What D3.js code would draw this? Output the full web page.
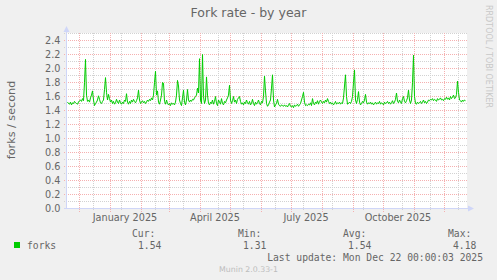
<!DOCTYPE html>
<html><head><meta charset="utf-8">
<script src="https://cdnjs.cloudflare.com/ajax/libs/d3/7.8.5/d3.min.js"></script>
<style>html,body{margin:0;padding:0;background:#f0f0f0;}svg{display:block;}</style>
</head><body>
<script>
// ---- data ----
const title = "Fork rate - by year";
const yLabel = "forks / second";
const seriesName = "forks";
const seriesStart = "2024-11-19"; // first daily sample
const domainStart = "2024-11-19";
const domainEnd = "2025-12-24";
const yTicks = [0.0,0.2,0.4,0.6,0.8,1.0,1.2,1.4,1.6,1.8,2.0,2.2,2.4];
const yMinorTicks = [0.1,0.3,0.5,0.7,0.9,1.1,1.3,1.5,1.7,1.9,2.1,2.3,2.5];
const monthLabels = [["2025-01-16","January 2025"],["2025-04-16","April 2025"],["2025-07-16","July 2025"],["2025-10-16","October 2025"]];
const majorGridDates = ["2024-12-01","2025-01-01","2025-02-01","2025-03-01","2025-04-01","2025-05-01","2025-06-01","2025-07-01","2025-08-01","2025-09-01","2025-10-01","2025-11-01","2025-12-01"];
const minorGridDates = ["2024-12-15","2025-01-12","2025-02-15","2025-03-15","2025-04-19","2025-05-14","2025-06-15","2025-07-13","2025-08-11","2025-09-11","2025-10-20","2025-11-17","2025-12-15"];
const forks = [
1.52,1.50,1.49,1.52,1.48,1.51,1.50,1.53,1.51,1.50,1.49,1.52,1.54,1.55,1.53,1.57,1.54,1.80,2.13,1.62,
1.53,1.55,1.52,1.58,1.62,1.68,1.55,1.47,1.50,1.52,1.55,1.61,1.56,1.51,1.50,1.53,1.55,1.70,1.87,1.66,
1.55,1.63,1.57,1.52,1.55,1.50,1.53,1.49,1.51,1.56,1.52,1.50,1.55,1.51,1.49,1.52,1.50,1.55,1.53,1.64,
1.52,1.49,1.53,1.50,1.55,1.52,1.56,1.53,1.51,1.54,1.58,1.69,1.55,1.50,1.52,1.54,1.51,1.53,1.50,1.52,
1.55,1.53,1.56,1.54,1.58,1.55,1.62,1.80,1.96,1.62,1.68,1.52,1.49,1.55,1.62,1.80,1.79,1.53,1.49,1.55,
1.50,1.48,1.50,1.47,1.51,1.49,1.50,1.48,1.52,1.62,1.83,1.75,1.55,1.50,1.47,1.58,1.69,1.52,1.48,1.55,
1.70,1.55,1.52,1.55,1.53,1.56,1.55,1.58,1.60,1.62,1.72,1.65,2.14,1.55,1.50,2.20,1.60,1.50,1.55,1.88,
1.62,1.50,1.48,1.52,1.50,1.55,1.49,1.53,1.60,1.50,1.47,1.55,1.52,1.49,1.57,1.50,1.48,1.53,1.51,1.55,
1.58,1.62,1.76,1.55,1.50,1.54,1.60,1.52,1.55,1.50,1.56,1.58,1.60,1.53,1.49,1.51,1.48,1.52,1.50,1.55,
1.51,1.49,1.53,1.48,1.50,1.56,1.50,1.47,1.52,1.49,1.51,1.55,1.50,1.48,1.53,1.51,1.60,1.89,1.68,1.50,
1.46,1.48,1.52,1.55,1.72,1.91,1.55,1.45,1.48,1.50,1.56,1.49,1.47,1.46,1.48,1.47,1.46,1.48,1.46,1.47,
1.45,1.48,1.50,1.46,1.45,1.47,1.44,1.48,1.46,1.47,1.49,1.46,1.48,1.50,1.55,1.60,1.66,1.52,1.47,1.48,
1.47,1.49,1.48,1.51,1.47,1.57,1.50,1.48,1.52,1.50,1.54,1.49,1.53,1.55,1.52,1.50,1.53,1.51,1.55,1.52,
1.57,1.53,1.50,1.52,1.49,1.51,1.48,1.50,1.53,1.49,1.51,1.50,1.52,1.49,1.51,1.50,1.58,1.75,1.91,1.60,
1.49,1.50,1.52,1.50,1.53,1.60,1.80,1.98,1.55,1.50,1.56,1.67,1.52,1.48,1.50,1.53,1.51,1.55,1.63,1.52,
1.49,1.51,1.50,1.52,1.49,1.51,1.48,1.50,1.52,1.49,1.51,1.50,1.53,1.49,1.51,1.50,1.48,1.52,1.50,1.51,
1.53,1.50,1.52,1.49,1.51,1.54,1.50,1.52,1.56,1.65,1.53,1.51,1.55,1.52,1.50,1.57,1.60,1.53,1.51,1.54,
1.58,1.69,1.55,1.50,1.55,1.80,2.19,1.60,1.50,1.49,1.52,1.50,1.51,1.53,1.50,1.52,1.55,1.51,1.53,1.50,
1.52,1.55,1.54,1.56,1.55,1.57,1.54,1.56,1.55,1.53,1.57,1.55,1.56,1.58,1.55,1.56,1.54,1.57,1.56,1.59,
1.56,1.58,1.55,1.60,1.57,1.59,1.62,1.57,1.58,1.63,1.82,1.66,1.55,1.54,1.52,1.55,1.53,1.55,1.54
];
const legendHeads = ["Cur:","Min:","Avg:","Max:"];
const legendValues = ["1.54","1.31","1.54","4.18"];
const lastUpdate = "Last update: Mon Dec 22 00:00:03 2025";
const footer = "Munin 2.0.33-1";
const watermark = "RRDTOOL / TOBI OETIKER";

// ---- drawing ----
function draw() {
const W = 497, H = 280;
const pLeft = 67, pRight = 467, pTop = 33.5, pBottom = 208.5;
const parse = d3.utcParse("%Y-%m-%d");
const svg = d3.select("body").append("svg").attr("width", W).attr("height", H);
svg.append("rect").attr("width", W).attr("height", H).attr("fill", "#f0f0f0");
svg.append("rect").attr("x", pLeft).attr("y", 33).attr("width", pRight - pLeft).attr("height", 175.5).attr("fill", "#ffffff");

const x = d3.scaleUtc().domain([parse(domainStart), parse(domainEnd)]).range([pLeft, pRight]);
const y = d3.scaleLinear().domain([0, 2.5]).range([pBottom, pTop]);
const px = v => Math.round(v) + 0.5;

const fontSans = "DejaVu Sans";
const fontMono = "DejaVu Sans Mono";
const textCol = "#666666";
const minorCol = "#d2d2d2";
const majorCol = "#f5b0b0";

// minor horizontal grid
svg.append("g").selectAll("line").data(yMinorTicks).join("line")
  .attr("x1", pLeft - 3).attr("x2", pRight)
  .attr("y1", d => px(y(d) - 0.5)).attr("y2", d => px(y(d) - 0.5))
  .attr("stroke", minorCol).attr("stroke-dasharray", "1,1").attr("shape-rendering", "crispEdges");
// minor vertical grid
svg.append("g").selectAll("line").data(minorGridDates.map(parse)).join("line")
  .attr("x1", d => px(x(d))).attr("x2", d => px(x(d)))
  .attr("y1", pTop - 0.5).attr("y2", pBottom + 2)
  .attr("stroke", minorCol).attr("stroke-dasharray", "1,1").attr("shape-rendering", "crispEdges");
// major horizontal grid
svg.append("g").selectAll("line").data(yTicks.slice(1)).join("line")
  .attr("x1", pLeft - 3).attr("x2", pRight)
  .attr("y1", d => px(y(d) - 0.5)).attr("y2", d => px(y(d) - 0.5))
  .attr("stroke", majorCol).attr("stroke-dasharray", "1,1").attr("shape-rendering", "crispEdges");
// major vertical grid
svg.append("g").selectAll("line").data(majorGridDates.map(parse)).join("line")
  .attr("x1", d => px(x(d))).attr("x2", d => px(x(d)))
  .attr("y1", pTop - 0.5).attr("y2", pBottom + 3)
  .attr("stroke", majorCol).attr("stroke-dasharray", "1,1").attr("shape-rendering", "crispEdges");

// axes
const axisCol = "#cfd6f8";
svg.append("line").attr("x1", pLeft - 0.5).attr("x2", pLeft - 0.5).attr("y1", pBottom).attr("y2", 31)
  .attr("stroke", axisCol);
svg.append("line").attr("x1", pLeft - 3).attr("x2", pRight + 2).attr("y1", pBottom).attr("y2", pBottom)
  .attr("stroke", axisCol);
svg.append("path").attr("d", `M${pLeft-0.5},26 L${pLeft-3.5},32 L${pLeft+2.5},32 Z`).attr("fill", axisCol);
svg.append("path").attr("d", `M${pRight+7},${pBottom} L${pRight+1},${pBottom-3} L${pRight+1},${pBottom+3} Z`).attr("fill", axisCol);

// y tick labels
svg.append("g").selectAll("text").data(yTicks).join("text")
  .attr("x", 60.5).attr("y", d => y(d) + 3.5)
  .attr("text-anchor", "end").attr("font-family", fontSans).attr("font-size", "9.7px")
  .attr("fill", textCol).text(d => d.toFixed(1));

// x labels
svg.append("g").selectAll("text").data(monthLabels).join("text")
  .attr("x", d => x(parse(d[0]))).attr("y", 220.5)
  .attr("text-anchor", "middle").attr("font-family", fontSans).attr("font-size", "9.7px")
  .attr("fill", textCol).text(d => d[1]);

// line
const line = d3.line()
  .x((d, i) => x(d3.utcDay.offset(parse(seriesStart), i)) + 0.5)
  .y(d => y(d));
svg.append("path").datum(forks).attr("d", line)
  .attr("fill", "none").attr("stroke", "#00cc00").attr("stroke-width", 1);

// title
svg.append("text").attr("x", 248.5).attr("y", 17).attr("text-anchor", "middle")
  .attr("font-family", fontSans).attr("font-size", "12.5px").attr("fill", textCol).text(title);
// y label
svg.append("text").attr("transform", "translate(15,120) rotate(-90)").attr("text-anchor", "middle")
  .attr("font-family", fontSans).attr("font-size", "11.2px").attr("fill", textCol).text(yLabel);
// watermark
svg.append("text").attr("transform", "translate(486,5) rotate(90)").attr("text-anchor", "start")
  .attr("font-family", fontSans).attr("font-size", "8px").attr("fill", "#c8c8c8").text(watermark);

// legend
svg.append("rect").attr("x", 14).attr("y", 242).attr("width", 6).attr("height", 6).attr("fill", "#00cc00");
svg.append("text").attr("x", 27).attr("y", 249).attr("font-family", fontMono).attr("font-size", "9.7px")
  .attr("fill", textCol).text(seriesName);
const headX = [132, 238, 343, 448];
const valX = [138, 243, 348, 453];
svg.append("g").selectAll("text").data(legendHeads).join("text")
  .attr("x", (d, i) => headX[i]).attr("y", 237).attr("font-family", fontMono).attr("font-size", "9.7px")
  .attr("fill", textCol).text(d => d);
svg.append("g").selectAll("text").data(legendValues).join("text")
  .attr("x", (d, i) => valX[i]).attr("y", 249).attr("font-family", fontMono).attr("font-size", "9.7px")
  .attr("fill", textCol).text(d => d);
svg.append("text").attr("x", 483).attr("y", 261).attr("text-anchor", "end").attr("font-family", fontMono)
  .attr("font-size", "9.7px").attr("fill", textCol).text(lastUpdate);
svg.append("text").attr("x", 248.5).attr("y", 272).attr("text-anchor", "middle").attr("font-family", fontSans)
  .attr("font-size", "7.8px").attr("fill", "#bdbdbd").text(footer);
}
draw();
</script>
</body></html>
